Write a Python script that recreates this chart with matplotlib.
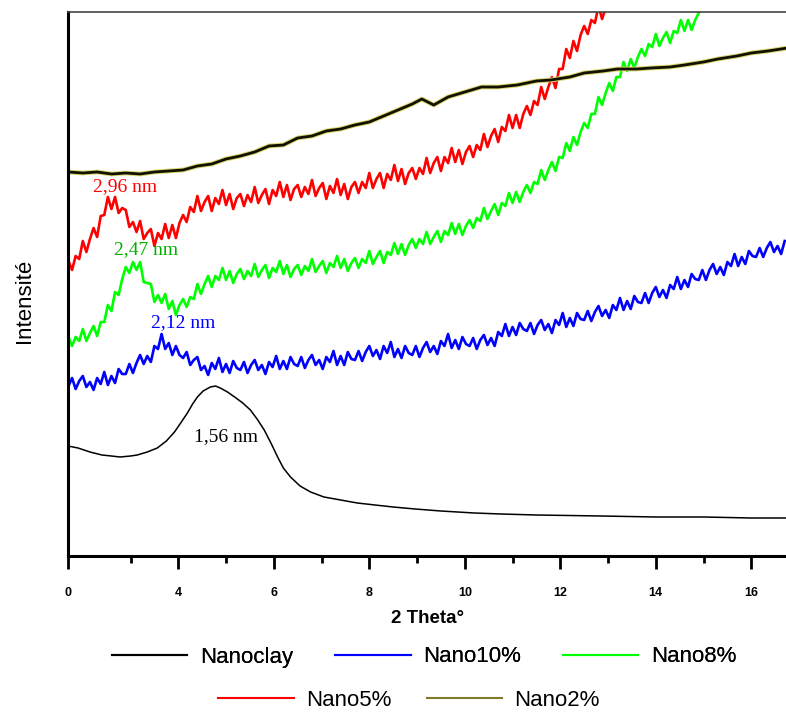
import numpy as np
import matplotlib
matplotlib.use("Agg")
import matplotlib.pyplot as plt
from matplotlib.lines import Line2D
import matplotlib.patheffects as pe

# ---------------- data (2 Theta in degrees, intensity in arbitrary units) ----------------
nanoclay_x = [1.69, 1.9, 2.15, 2.4, 2.6, 2.78, 3.0, 3.14, 3.35, 3.56, 3.75, 3.92, 4.05, 4.19,
              4.30, 4.40, 4.52, 4.67, 4.78, 4.88, 5.03, 5.18, 5.35, 5.51, 5.65, 5.80, 5.95,
              6.08, 6.2, 6.35, 6.55, 6.77, 7.05, 7.40, 7.75, 8.12, 8.5, 8.96, 9.5, 10.2,
              10.76, 11.5, 12.86, 14.0, 15.0, 16.0, 16.76]
nanoclay_y = [110, 108, 104, 101, 100, 99, 100, 101, 104, 108, 115, 124, 133, 143,
              152, 159, 165, 169, 170, 168, 164, 159, 153, 146, 137, 126, 112,
              99, 88, 79, 70, 64, 59, 56, 53, 51, 49, 47, 45, 43,
              42, 41, 40, 39, 39, 38, 38]

nano2_x = [1.70, 2.0, 2.3, 2.6, 2.9, 3.2, 3.5, 3.8, 4.1, 4.4, 4.7, 5.0, 5.3, 5.6, 5.9, 6.2,
           6.5, 6.8, 7.1, 7.4, 7.7, 8.0, 8.3, 8.6, 8.9, 9.1, 9.35, 9.65, 10.0, 10.35, 10.7,
           11.1, 11.5, 11.8, 12.2, 12.5, 12.9, 13.2, 13.6, 13.9, 14.3, 14.6, 15.0, 15.3,
           15.7, 16.0, 16.35, 16.76]
nano2_y = [384, 383, 384, 382, 383, 382, 384, 385, 386, 390, 392, 397, 400, 404, 410, 411,
           418, 420, 425, 427, 431, 434, 440, 446, 452, 457, 451, 459, 464, 469, 469,
           471, 475, 476, 479, 483, 485, 487, 487, 488, 489, 491, 494, 497,
           500, 503, 505, 508]

# noisy scans, sampled every 0.075 degree
nano10_x = np.linspace(1.70, 16.70, 201)
nano10_y = [170, 178, 167, 175, 180, 169, 174, 166, 178, 172, 184, 171, 180, 173, 187, 182,
            182, 192, 183, 193, 201, 192, 200, 194, 210, 207, 222, 207, 213, 201, 210, 201,
            198, 204, 191, 196, 199, 186, 190, 181, 193, 187, 198, 184, 192, 183, 195, 188,
            186, 194, 183, 191, 196, 186, 191, 182, 194, 189, 200, 187, 195, 187, 199, 192,
            190, 199, 188, 196, 201, 191, 196, 187, 199, 194, 205, 191, 200, 191, 204, 197,
            196, 205, 195, 204, 210, 200, 206, 197, 210, 203, 214, 199, 207, 198, 210, 203,
            201, 210, 199, 208, 214, 204, 210, 202, 215, 210, 222, 208, 216, 207, 219, 212,
            210, 218, 207, 216, 221, 211, 218, 210, 224, 220, 232, 220, 229, 221, 233, 227,
            225, 233, 222, 231, 236, 226, 232, 223, 236, 231, 243, 229, 238, 230, 243, 237,
            236, 245, 235, 244, 250, 240, 246, 238, 251, 246, 258, 246, 255, 247, 260, 254,
            253, 263, 253, 263, 269, 259, 266, 258, 271, 267, 279, 267, 276, 269, 282, 277,
            276, 286, 276, 286, 292, 282, 289, 281, 294, 290, 302, 290, 299, 292, 305, 300,
            299, 308, 299, 308, 314, 304, 310, 302, 315]

nano8_x = np.linspace(1.70, 14.90, 177)
nano8_y = [219, 210, 219, 215, 227, 215, 223, 230, 220, 234, 234, 251, 245, 264, 261, 277,
           289, 283, 294, 286, 294, 274, 273, 272, 254, 261, 253, 262, 247, 255, 241, 251,
           257, 249, 259, 257, 272, 262, 272, 280, 269, 280, 276, 288, 276, 285, 273, 282,
           287, 277, 285, 280, 292, 279, 286, 291, 278, 288, 284, 295, 282, 291, 279, 287,
           291, 281, 290, 285, 297, 284, 290, 295, 283, 293, 289, 300, 288, 297, 285, 293,
           298, 288, 297, 293, 305, 292, 299, 305, 293, 304, 301, 313, 302, 312, 301, 311,
           317, 308, 317, 312, 324, 312, 319, 325, 314, 325, 321, 333, 322, 332, 321, 330,
           336, 328, 338, 335, 348, 337, 345, 352, 341, 353, 350, 363, 353, 364, 354, 364,
           371, 363, 374, 372, 386, 376, 386, 394, 385, 399, 398, 413, 405, 419, 411, 424,
           433, 428, 442, 442, 459, 451, 463, 473, 465, 479, 479, 494, 485, 497, 488, 499,
           507, 500, 512, 509, 522, 510, 518, 524, 513, 525, 523, 536, 525, 536, 526, 536,
           543]

nano5_x = np.linspace(1.70, 12.95, 151)
nano5_y = [295, 286, 300, 297, 315, 304, 317, 328, 319, 340, 341, 359, 347, 359, 343, 348,
           346, 329, 334, 324, 335, 317, 323, 327, 310, 323, 317, 332, 318, 331, 318, 333,
           341, 334, 349, 344, 360, 345, 354, 360, 345, 358, 352, 366, 351, 362, 347, 358,
           362, 350, 361, 354, 369, 353, 361, 367, 352, 366, 360, 374, 359, 371, 356, 367,
           371, 359, 369, 362, 376, 360, 368, 373, 357, 370, 363, 377, 361, 372, 357, 369,
           374, 363, 374, 368, 383, 368, 377, 383, 368, 382, 376, 391, 375, 387, 372, 383,
           388, 377, 388, 382, 398, 383, 393, 399, 385, 399, 393, 408, 394, 406, 392, 404,
           410, 399, 411, 406, 422, 409, 420, 427, 414, 429, 425, 441, 428, 441, 428, 442,
           450, 441, 455, 451, 469, 457, 469, 479, 468, 487, 487, 507, 498, 515, 505, 521,
           530, 522, 536, 533, 550, 537, 548]

series_names = ["Nanoclay", "Nano10%", "Nano8%", "Nano5%", "Nano2%"]
series_colors = ["#000000", "#0000ff", "#00ff00", "#ff0000", "#7f7a2c"]

peak_labels = ["1,56 nm", "2,12 nm", "2,47 nm", "2,96 nm"]
peak_label_x = [4.99, 4.10, 3.33, 2.89]
peak_label_y = [119, 233, 306, 369]
peak_label_colors = ["#000000", "#0000ff", "#00b000", "#ff0000"]

tick_pos = [1.69, 4, 6, 8, 10, 12, 14, 16]
tick_labels = ["0", "4", "6", "8", "10", "12", "14", "16"]
minor_pos = [3, 5, 7, 9, 11, 13, 15]

# ---------------- figure ----------------
fig = plt.figure(figsize=(7.86, 7.13), dpi=100)
ax = fig.add_axes([68 / 786, 1 - 556 / 713, 1 - 68 / 786 + 0.002, (556 - 12) / 713])

ax.plot(nanoclay_x, nanoclay_y, color=series_colors[0], lw=1.1)
ax.plot(nano10_x, nano10_y, color=series_colors[1], lw=1.9)
ax.plot(nano8_x, nano8_y, color=series_colors[2], lw=1.9)
ax.plot(nano5_x, nano5_y, color=series_colors[3], lw=1.9)
ax.plot(nano2_x, nano2_y, color="#111100", lw=2.0,
        path_effects=[pe.Stroke(linewidth=3.4, foreground="#d9d36a"), pe.Normal()])

for lab, lx, ly, lc in zip(peak_labels, peak_label_x, peak_label_y, peak_label_colors):
    ax.text(lx, ly, lab, color=lc, fontsize=14, family="Liberation Serif",
            ha="center", va="center")

ax.set_xlim(1.69, 16.76)
ax.set_ylim(0, 544)
ax.set_yticks([])
ax.set_xticks(tick_pos)
ax.set_xticklabels(tick_labels, fontsize=9, fontweight="bold", family="Liberation Sans")
ax.set_xticks(minor_pos, minor=True)
ax.tick_params(axis="x", which="major", direction="out", length=9, width=2, pad=13)
ax.tick_params(axis="x", which="minor", direction="out", length=5, width=2)

ax.spines["right"].set_visible(False)
ax.spines["left"].set_linewidth(2.2)
ax.spines["bottom"].set_linewidth(2.2)
ax.spines["top"].set_linewidth(1.2)
ax.spines["top"].set_color("#444444")

ax.set_xlabel("2 Theta°", fontsize=13.5, fontweight="bold", family="Liberation Sans", labelpad=8)
fig.text(25 / 786, 1 - 301 / 713, "Intensité", rotation=90, fontsize=16,
         family="Liberation Sans", ha="center", va="center")

# ---------------- legend (two rows) ----------------
row1 = [Line2D([], [], color=c, lw=1.5) for c in series_colors[:3]]
row2 = [Line2D([], [], color=c, lw=1.5) for c in series_colors[3:]]
leg1 = fig.legend(row1, series_names[:3], loc="center", bbox_to_anchor=(424 / 786, 1 - 657 / 713),
                  ncol=3, frameon=False, handlelength=3.4, handletextpad=0.55,
                  columnspacing=1.9, prop={"family": "Liberation Sans", "size": 16})
leg2 = fig.legend(row2, series_names[3:], loc="center", bbox_to_anchor=(409 / 786, 1 - 700 / 713),
                  ncol=2, frameon=False, handlelength=3.4, handletextpad=0.55,
                  columnspacing=1.6, prop={"family": "Liberation Sans", "size": 16})
fig.add_artist(leg1)

fig.savefig("out.png", dpi=100)
